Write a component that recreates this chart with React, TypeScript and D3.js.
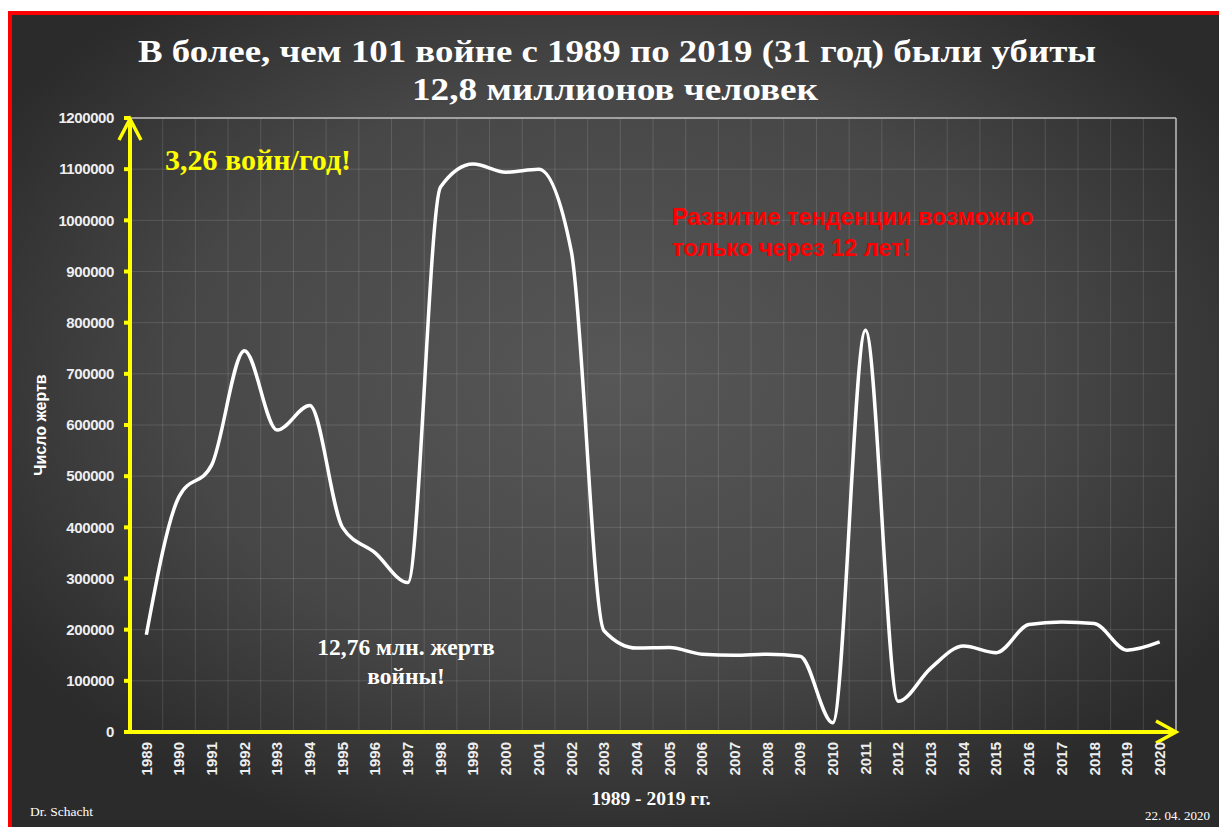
import * as d3 from 'd3';

const years = d3.range(1989, 2021).map(String);
const victims = [
  190000, 460000, 522000, 745000, 590000, 638000, 400000, 350000, 292000,
  1065000, 1110000, 1094000, 1100000, 940000, 198000, 164000, 165000, 152000,
  150000, 152000, 148000, 18000, 785000, 60000, 125000, 168000, 155000,
  210000, 215000, 212000, 160000, 176000,
];
const yTicks = d3.range(0, 1300000, 100000);

const titleLines = [
  'В более, чем 101 войне с 1989 по 2019 (31 год) были убиты',
  '12,8 миллионов человек',
];
const trendLines = ['Развитие тенденции возможно', 'только через 12 лет!'];
const totalLines = ['12,76 млн. жертв', 'войны!'];

const W = 1219;
const H = 827;
const left = 130;
const right = 1176;
const top = 118;
const bottom = 732;

const serif = '"Liberation Serif", "Times New Roman", serif';
const sans = '"Liberation Sans", Arial, sans-serif';

function App() {
  const x = d3.scaleBand<string>().domain(years).range([left, right]);
  const y = d3.scaleLinear().domain([0, 1200000]).range([bottom, top]);
  const cx = (yr: string) => (x(yr) ?? 0) + x.bandwidth() / 2;

  const line = d3
    .line<number>()
    .x((_, i) => cx(years[i]))
    .y((d) => y(d))
    .curve(d3.curveMonotoneX);

  const grid = 'rgba(255,255,255,0.13)';

  return (
    <svg
      width={W}
      height={H}
      style={{ position: 'absolute', left: 0, top: 0 }}
    >
      <defs>
        <radialGradient id="bg" cx="50%" cy="45%" r="60%">
          <stop offset="0%" stopColor="#575757" />
          <stop offset="60%" stopColor="#474747" />
          <stop offset="100%" stopColor="#2b2b2b" />
        </radialGradient>
      </defs>
      <rect width={W} height={H} fill="#fff" />
      <rect x={8} y={11} width={W - 8} height={H - 11} fill="url(#bg)" />
      <rect x={8} y={11} width={W - 8} height={4} fill="#ff0000" />
      <rect x={8} y={11} width={4} height={H - 11} fill="#ff0000" />

      <text
        x={617}
        y={62}
        textAnchor="middle"
        fill="#fff"
        fontFamily={serif}
        fontWeight="bold"
        fontSize={32}
        textLength={958}
        lengthAdjust="spacingAndGlyphs"
      >
        {titleLines[0]}
      </text>
      <text
        x={615}
        y={100}
        textAnchor="middle"
        fill="#fff"
        fontFamily={serif}
        fontWeight="bold"
        fontSize={32}
        textLength={406}
        lengthAdjust="spacingAndGlyphs"
      >
        {titleLines[1]}
      </text>

      {/* grid */}
      {yTicks.map((t) => (
        <line key={t} x1={left} x2={right} y1={y(t)} y2={y(t)} stroke={grid} />
      ))}
      {years.map((yr) => (
        <line
          key={yr}
          x1={(x(yr) ?? 0) + x.bandwidth()}
          x2={(x(yr) ?? 0) + x.bandwidth()}
          y1={top}
          y2={bottom}
          stroke={grid}
        />
      ))}
      <line x1={left} x2={right} y1={top} y2={top} stroke="#bbb" strokeWidth={1.5} />
      <line x1={right} x2={right} y1={top} y2={bottom} stroke="#bbb" strokeWidth={1.5} />

      <path d={line(victims) ?? undefined} fill="none" stroke="#fff" strokeWidth={3.5} />

      {/* axes */}
      <g stroke="#ffff00" strokeWidth={4} fill="none" strokeLinecap="butt">
        <line x1={left} x2={left} y1={bottom + 2} y2={top + 2} />
        <line x1={left - 6} x2={right - 2} y1={bottom} y2={bottom} />
        <path d={`M${left - 11},${top + 22} L${left},${top + 1} L${left + 11},${top + 22}`} strokeWidth={3.5} />
        <path d={`M${right - 20},${bottom - 11} L${right},${bottom} L${right - 20},${bottom + 11}`} strokeWidth={3.5} />
        {yTicks.map((t) => (
          <line key={t} x1={left - 6} x2={left} y1={y(t)} y2={y(t)} />
        ))}
      </g>

      {yTicks.map((t) => (
        <text
          key={t}
          x={114}
          y={y(t)}
          dy="0.35em"
          textAnchor="end"
          fill="#eee"
          fontFamily={sans}
          fontWeight="bold"
          fontSize={15}
          letterSpacing={-0.4}
        >
          {t}
        </text>
      ))}
      {years.map((yr) => (
        <text
          key={yr}
          transform={`translate(${cx(yr)},${bottom + 10}) rotate(-90)`}
          dy="0.35em"
          textAnchor="end"
          fill="#eee"
          fontFamily={sans}
          fontWeight="bold"
          fontSize={15}
        >
          {yr}
        </text>
      ))}

      <text
        transform="translate(40,425) rotate(-90)"
        dy="0.35em"
        textAnchor="middle"
        fill="#fff"
        fontFamily={sans}
        fontWeight="bold"
        fontSize={16}
      >
        Число жертв
      </text>

      <text
        x={651}
        y={805}
        textAnchor="middle"
        fill="#fff"
        fontFamily={serif}
        fontWeight="bold"
        fontSize={19.5}
      >
        1989 - 2019 гг.
      </text>

      <text x={165} y={170} fill="#ffff00" fontFamily={serif} fontWeight="bold" fontSize={30}>
        3,26 войн/год!
      </text>

      {trendLines.map((t, i) => (
        <text
          key={t}
          x={672}
          y={225 + i * 31}
          fill="#ff0000"
          fontFamily={sans}
          fontWeight="bold"
          fontSize={23.5}
        >
          {t}
        </text>
      ))}

      {totalLines.map((t, i) => (
        <text
          key={t}
          x={406}
          y={655 + i * 29}
          textAnchor="middle"
          fill="#fff"
          fontFamily={serif}
          fontWeight="bold"
          fontSize={23.5}
        >
          {t}
        </text>
      ))}

      <text x={30} y={816} fill="#fff" fontFamily={serif} fontSize={13.5}>
        Dr. Schacht
      </text>
      <text x={1210} y={820} textAnchor="end" fill="#fff" fontFamily={serif} fontSize={13}>
        22. 04. 2020
      </text>
    </svg>
  );
}

export default App;
